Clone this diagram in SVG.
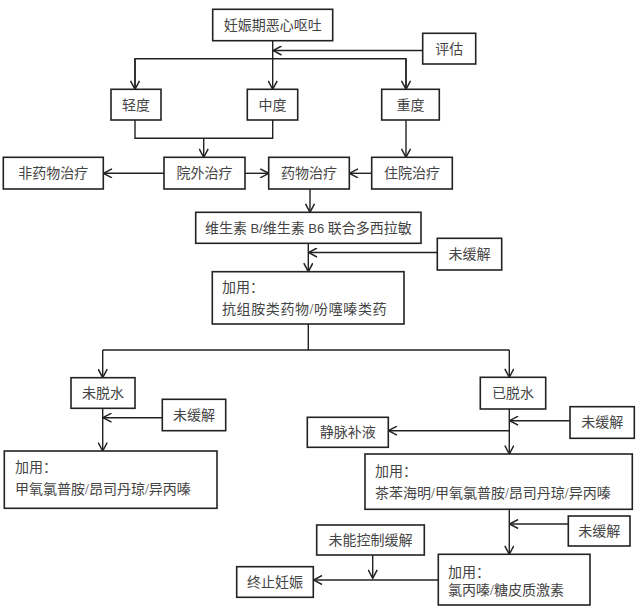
<svg xmlns="http://www.w3.org/2000/svg" width="640" height="609" viewBox="0 0 640 609">
<defs>
<marker id="ah" viewBox="0 0 10 10" refX="9.5" refY="5" markerWidth="10" markerHeight="10" markerUnits="userSpaceOnUse" orient="auto">
<path d="M1,0.5 L9.5,5 L1,9.5" fill="none" stroke="#222" stroke-width="1.5"/>
</marker>
</defs>
<style>
rect{fill:#fff;stroke:#222;stroke-width:1.6}
text{font-family:"Liberation Serif","Noto Sans CJK SC",serif;font-size:14px;fill:#444}
.c{text-anchor:middle}
.s{font-family:"Liberation Sans","Noto Sans CJK SC",sans-serif;font-size:13px}
#connectors path{fill:none;stroke:#222;stroke-width:1.4}
.a{marker-end:url(#ah)}
</style>
<rect x="0" y="0" width="640" height="609" style="fill:#fff;stroke:none"/>
<g id="connectors">
<path class="a" d="M422.7,50.5 H273"/>
<path d="M272.7,41 V58.7"/>
<path d="M135,89 V58.7 H406 V89"/>
<path class="a" d="M135,58.7 V89.3"/>
<path class="a" d="M272.7,58.7 V89.3"/>
<path class="a" d="M406,58.7 V89.3"/>
<path d="M135,120 V138.3 H272.7 V120"/>
<path class="a" d="M203.7,138.3 V157.3"/>
<path class="a" d="M406,120 V157.3"/>
<path class="a" d="M164,173.3 H103.5"/>
<path class="a" d="M245,173.3 H268.7"/>
<path class="a" d="M371.7,173.3 H349.5"/>
<path class="a" d="M310,189 V212.3"/>
<path class="a" d="M308.3,243.3 V271.7"/>
<path class="a" d="M437.3,252.5 H308.5"/>
<path d="M308.3,324 V350"/>
<path d="M102.7,350 H509.3"/>
<path class="a" d="M102.7,350 V377.7"/>
<path class="a" d="M509.3,350 V377.3"/>
<path class="a" d="M102.7,408.3 V451"/>
<path class="a" d="M162.3,417.7 H103"/>
<path class="a" d="M509.3,409 V454"/>
<path class="a" d="M570,420.7 H509.6"/>
<path class="a" d="M509.3,430.7 H388.5"/>
<path class="a" d="M509.3,509.3 V554.3"/>
<path class="a" d="M568.3,524 H509.6"/>
<path class="a" d="M438.3,580 H313.5"/>
<path class="a" d="M372.7,555 V578.3"/>
</g>
<g id="n1"><rect x="212.7" y="9.3" width="120" height="31.4"/><text class="c" x="272.7" y="30">妊娠期恶心呕吐</text></g>
<g id="n2"><rect x="422.7" y="33.3" width="53" height="30.7"/><text class="c" x="449.2" y="54">评估</text></g>
<g id="n3"><rect x="111" y="89.3" width="50" height="30.7"/><text class="c" x="136" y="110">轻度</text></g>
<g id="n4"><rect x="247.3" y="89.3" width="50.4" height="30.7"/><text class="c" x="272.5" y="110">中度</text></g>
<g id="n5"><rect x="381.7" y="89.3" width="57.6" height="30.7"/><text class="c" x="410.5" y="110">重度</text></g>
<g id="n6"><rect x="3.3" y="157.3" width="100" height="31.7"/><text class="c" x="53.3" y="178">非药物治疗</text></g>
<g id="n7"><rect x="164" y="157.3" width="81" height="31.7"/><text class="c" x="204.5" y="178">院外治疗</text></g>
<g id="n8"><rect x="268.7" y="157.3" width="80.6" height="31.7"/><text class="c" x="309" y="178">药物治疗</text></g>
<g id="n9"><rect x="371.7" y="157.3" width="80.6" height="31.7"/><text class="c" x="412" y="178">住院治疗</text></g>
<g id="n10"><rect x="195.7" y="212.3" width="225.3" height="31"/><text class="c" x="308.3" y="233">维生素 <tspan class="s">B/</tspan>维生素 <tspan class="s">B6</tspan> 联合多西拉敏</text></g>
<g id="n11"><rect x="437.3" y="238.3" width="64.4" height="31.7"/><text class="c" x="469.5" y="259">未缓解</text></g>
<g id="n12"><rect x="212.3" y="271.7" width="191.7" height="52.3"/><text x="222" y="292">加用：</text><text x="222" y="314" letter-spacing="0.6">抗组胺类药物/吩噻嗪类药</text></g>
<g id="n13"><rect x="71" y="377.7" width="64" height="30.6"/><text class="c" x="103" y="398">未脱水</text></g>
<g id="n14"><rect x="480.3" y="377.3" width="65.4" height="31.7"/><text class="c" x="513" y="398">已脱水</text></g>
<g id="n15"><rect x="162.3" y="399.3" width="63.4" height="31.4"/><text class="c" x="194" y="420">未缓解</text></g>
<g id="n16"><rect x="570" y="406.7" width="64.3" height="31.6"/><text class="c" x="602.2" y="427">未缓解</text></g>
<g id="n17"><rect x="307.3" y="417.3" width="81" height="30"/><text class="c" x="347.8" y="437">静脉补液</text></g>
<g id="n18"><rect x="4.3" y="451" width="212.7" height="57.3"/><text x="15" y="472">加用：</text><text x="15" y="494">甲氧氯普胺/昂司丹琼/异丙嗪</text></g>
<g id="n19"><rect x="365" y="454" width="267.3" height="55.3"/><text x="375" y="476">加用：</text><text x="375" y="498">茶苯海明/甲氧氯普胺/昂司丹琼/异丙嗪</text></g>
<g id="n20"><rect x="568.3" y="516" width="61.7" height="30"/><text class="c" x="599.2" y="536">未缓解</text></g>
<g id="n21"><rect x="316.7" y="525" width="107.6" height="30"/><text class="c" x="370.5" y="545">未能控制缓解</text></g>
<g id="n22"><rect x="438.3" y="554.3" width="151.7" height="50.7"/><text x="448" y="577">加用：</text><text x="448" y="595">氯丙嗪/糖皮质激素</text></g>
<g id="n23"><rect x="236.7" y="566.7" width="76.6" height="30.6"/><text class="c" x="275" y="587">终止妊娠</text></g>
</svg>
